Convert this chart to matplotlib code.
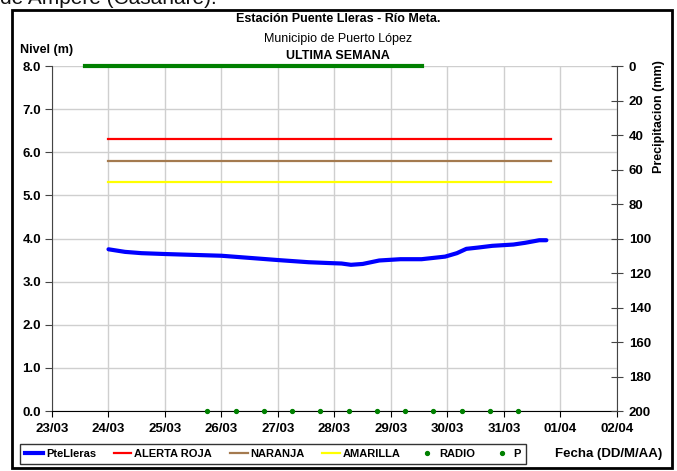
from datetime import datetime

import matplotlib
matplotlib.use('Agg')
from matplotlib import pyplot as plt
import matplotlib.dates as mdates
from matplotlib.lines import Line2D
from matplotlib.patches import Rectangle

plt.rcParams['font.family'] = ['Liberation Sans', 'DejaVu Sans']

# ---- data ----
nivel_fechas = ['2011-03-24 00:00', '2011-03-24 07:00', '2011-03-24 14:00', '2011-03-25 00:00',
                '2011-03-25 12:00', '2011-03-26 00:00', '2011-03-26 12:00', '2011-03-27 00:00',
                '2011-03-27 13:00', '2011-03-27 22:00', '2011-03-28 03:00', '2011-03-28 07:00',
                '2011-03-28 12:00', '2011-03-28 19:00', '2011-03-29 04:00', '2011-03-29 13:00',
                '2011-03-29 23:00', '2011-03-30 04:00', '2011-03-30 08:00', '2011-03-30 13:00',
                '2011-03-30 19:00', '2011-03-31 04:00', '2011-03-31 09:00', '2011-03-31 15:00',
                '2011-03-31 18:00']
nivel = [3.75, 3.69, 3.66, 3.64, 3.62, 3.60, 3.55, 3.50,
         3.45, 3.43, 3.42, 3.39, 3.41, 3.49, 3.52, 3.52,
         3.58, 3.66, 3.76, 3.79, 3.83, 3.86, 3.90, 3.96,
         3.96]

umbral_fechas = ['2011-03-24 00:00', '2011-03-31 20:00']
alerta_roja = 6.3
naranja = 5.8
amarilla = 5.3

radio_fechas = ['2011-03-25 18:00', '2011-03-26 06:00', '2011-03-26 18:00', '2011-03-27 06:00',
                '2011-03-27 18:00', '2011-03-28 06:00', '2011-03-28 18:00', '2011-03-29 06:00',
                '2011-03-29 18:00', '2011-03-30 06:00', '2011-03-30 18:00', '2011-03-31 06:00']
radio = [0.0] * 12

p_fechas = ['2011-03-23 14:00', '2011-03-29 13:00']
p = [0.0, 0.0]

x_ini = '2011-03-23'
x_fin = '2011-04-02'


def fechas(lista):
    return [datetime.fromisoformat(f) for f in lista]


fig = plt.figure(figsize=(6.77, 4.71), dpi=100)
ax = fig.add_axes([52 / 677, 1 - 411 / 471, 565 / 677, 345 / 471])
ax2 = ax.twinx()

# outer frame around the whole chart
fig.patches.append(Rectangle((12 / 677, 1 - 468 / 471), 660 / 677, 458 / 471,
                             transform=fig.transFigure, fill=False,
                             edgecolor='black', linewidth=2, zorder=0))

# cut-off caption from the page above
fig.text(0.0, 1 - 4 / 471, 'de Ampere (Casanare).', fontsize=15,
         ha='left', va='baseline', color='#111111')

ax.plot(fechas(nivel_fechas), nivel, c='#0000FF', linewidth=3, zorder=5,
        solid_capstyle='round')
ax.plot(fechas(umbral_fechas), [alerta_roja] * 2, c='#FF0000', linewidth=1.6)
ax.plot(fechas(umbral_fechas), [naranja] * 2, c='#A47A4F', linewidth=1.6)
ax.plot(fechas(umbral_fechas), [amarilla] * 2, c='#FFFF00', linewidth=1.6)
ax.plot(fechas(radio_fechas), radio, ls='none', marker='o', ms=2.8,
        c='#008000', clip_on=False, zorder=6)

ax2.plot(fechas(p_fechas), p, c='#008000', linewidth=3, clip_on=False)

ax.set_xlim(datetime.fromisoformat(x_ini), datetime.fromisoformat(x_fin))
ax.set_ylim(0, 8)
ax.set_yticks([i * 1.0 for i in range(9)])
ax.yaxis.set_major_formatter(plt.FormatStrFormatter('%.1f'))
ax.xaxis.set_major_locator(mdates.DayLocator())
ax.xaxis.set_major_formatter(mdates.DateFormatter('%d/%m'))

ax2.set_ylim(200, 0)
ax2.set_yticks(range(0, 201, 20))

ax.grid(True, color='#CFCFCF', linewidth=1)
ax.set_axisbelow(True)

for a in (ax, ax2):
    a.spines['top'].set_visible(False)
ax.spines['right'].set_visible(False)
ax2.spines['left'].set_visible(False)
ax2.spines['bottom'].set_visible(False)
ax.spines['left'].set_color('#444444')
ax.spines['bottom'].set_color('black')
ax2.spines['right'].set_color('#444444')

ax.tick_params(axis='y', direction='out', length=5, color='#444444', labelsize=9.5, pad=3)
ax.tick_params(axis='x', direction='out', length=4, color='black', labelsize=9.5, pad=5)
ax2.tick_params(axis='y', direction='inout', length=9, color='#444444', labelsize=9.5, pad=4)
for lbl in ax.get_xticklabels() + ax.get_yticklabels() + ax2.get_yticklabels():
    lbl.set_fontweight('bold')

fig.text(338 / 677, 1 - 19 / 471, 'Estación Puente Lleras - Río Meta.', fontsize=9,
         fontweight='bold', ha='center', va='center')
fig.text(338 / 677, 1 - 39 / 471, 'Municipio de Puerto López', fontsize=9,
         ha='center', va='center')
fig.text(338 / 677, 1 - 56 / 471, 'ULTIMA SEMANA', fontsize=9,
         fontweight='bold', ha='center', va='center')
fig.text(20 / 677, 1 - 50 / 471, 'Nivel (m)', fontsize=9, fontweight='bold',
         ha='left', va='center')
fig.text(659 / 677, 1 - 117 / 471, 'Precipitacion (mm)', fontsize=9, fontweight='bold',
         rotation=90, ha='center', va='center')
fig.text(609 / 677, 1 - 454 / 471, 'Fecha (DD/M/AA)', fontsize=9.5, fontweight='bold',
         ha='center', va='center')

handles = [
    Line2D([], [], c='#0000FF', linewidth=3),
    Line2D([], [], c='#FF0000', linewidth=1.6),
    Line2D([], [], c='#A47A4F', linewidth=1.6),
    Line2D([], [], c='#FFFF00', linewidth=1.6),
    Line2D([], [], ls='none', marker='o', ms=2.8, c='#008000'),
    Line2D([], [], ls='none', marker='o', ms=2.8, c='#008000'),
]
labels = ['PteLleras', 'ALERTA ROJA', 'NARANJA', 'AMARILLA', 'RADIO', 'P']
leg = fig.legend(handles, labels, ncol=6, loc='center',
                 bbox_to_anchor=(273 / 677, 1 - 454 / 471),
                 prop={'size': 8, 'weight': 'bold'}, frameon=True, fancybox=False,
                 edgecolor='black', handlelength=1.6, handletextpad=0.25,
                 columnspacing=1.6, borderpad=0.45)
leg.get_frame().set_linewidth(1)

fig.savefig('out.png', dpi=100)
